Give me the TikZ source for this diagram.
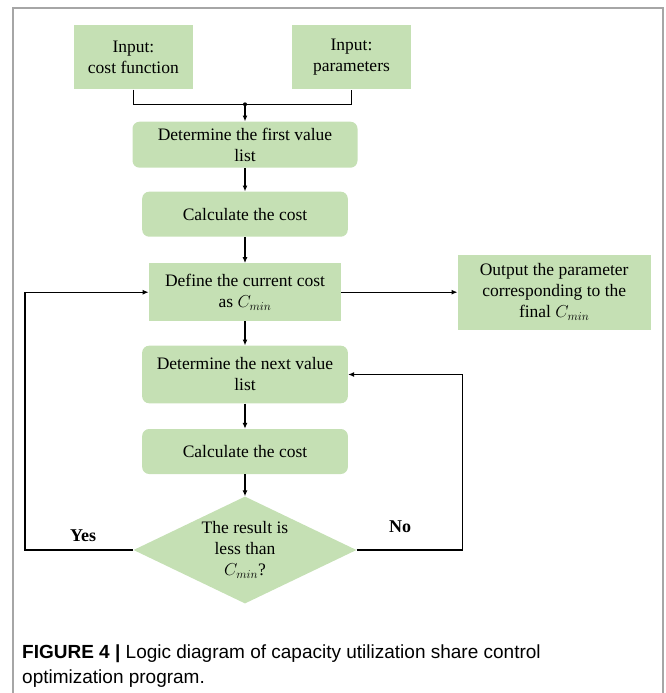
\documentclass[tikz,border=0pt]{standalone}
\usepackage{fontspec}
\setmainfont{Liberation Serif}
\newfontfamily\capfont{Liberation Sans}
\usetikzlibrary{shapes.geometric,arrows.meta}
\definecolor{boxgreen}{HTML}{C5E0B4}
\definecolor{framegray}{HTML}{A6A6A6}

\begin{document}
\begin{tikzpicture}[x=1pt,y=-1pt,
  every node/.style={font=\fontsize{17.5}{21}\selectfont},
  plainbox/.style={fill=boxgreen, align=center, inner sep=0pt},
  roundbox/.style={plainbox, rounded corners=7pt},
  decision/.style={diamond, fill=boxgreen, align=center, inner sep=0pt,
    aspect=2.1, minimum width=223pt, minimum height=107pt},
  flow/.style={line width=1.3pt, -{Latex[length=6pt,width=5pt]}},
  link/.style={line width=1.3pt},
  tag/.style={font=\fontsize{18}{21}\selectfont\bfseries}]

\useasboundingbox (0,0) rectangle (665,693);

% outer frame, open at the bottom
\draw[framegray, line width=2pt] (12.7,693) -- (12.7,8.3) -- (662.7,8.3) -- (662.7,693);

% inputs
\node[plainbox, minimum width=118.5pt, minimum height=64.3pt] (in1) at (133.4,57.2) {Input:\\cost function};
\node[plainbox, minimum width=118.5pt, minimum height=64.3pt] (in2) at (351.5,57.2) {Input:\\parameters};
\coordinate (join) at (245,104.3);

% main column
\node[roundbox, minimum width=225pt, minimum height=46pt] (first) at (245,144.7) {Determine the first value\\list};
\node[roundbox, minimum width=205.6pt, minimum height=45pt] (calc1) at (245,214.2) {Calculate the cost};
\node[plainbox, minimum width=192.3pt, minimum height=57.7pt] (define) at (245,292.2) {Define the current cost\\as $C_{min}$};
\node[plainbox, minimum width=193pt, minimum height=75.3pt] (output) at (554.2,292.2) {Output the parameter\\corresponding to the\\final $C_{min}$};
\node[roundbox, minimum width=205.7pt, minimum height=57.6pt] (next) at (245,374.5) {Determine the next value\\list};
\node[roundbox, minimum width=205.7pt, minimum height=45pt] (calc2) at (245,451.5) {Calculate the cost};
\node[decision] (dec) at (245,550) {The result is\\less than\\$C_{min}$?};

% loop corners
\coordinate (yesturn) at (25,550);
\coordinate (noturn) at (462.7,550);

% connectors
\draw[link] (in1.south) |- (join) -| (in2.south);
\fill (join) circle (2pt);
\draw[flow] (join) -- (first.north);
\draw[flow] (first.south) -- (calc1.north);
\draw[flow] (calc1.south) -- (define.north);
\draw[flow] (define.east) -- (output.west);
\draw[flow] (define.south) -- (next.north);
\draw[flow] (next.south) -- (calc2.north);
\draw[flow] (calc2.south) -- (dec.north);
\draw[flow] (dec.west) -- (yesturn) |- (define.west);
\draw[flow] (dec.east) -- (noturn) |- (next.east);

\node[tag] (yes) at (83,536) {Yes};
\node[tag] (no) at (400,527) {No};

% caption (base anchor sits on the last line)
\node[anchor=base west, align=left, inner sep=0pt,
  font=\capfont\fontsize{19}{25}\selectfont] (caption) at (22,683)
  {\textbf{FIGURE 4 |} Logic diagram of capacity utilization share control\\optimization program.};
\end{tikzpicture}
\end{document}
